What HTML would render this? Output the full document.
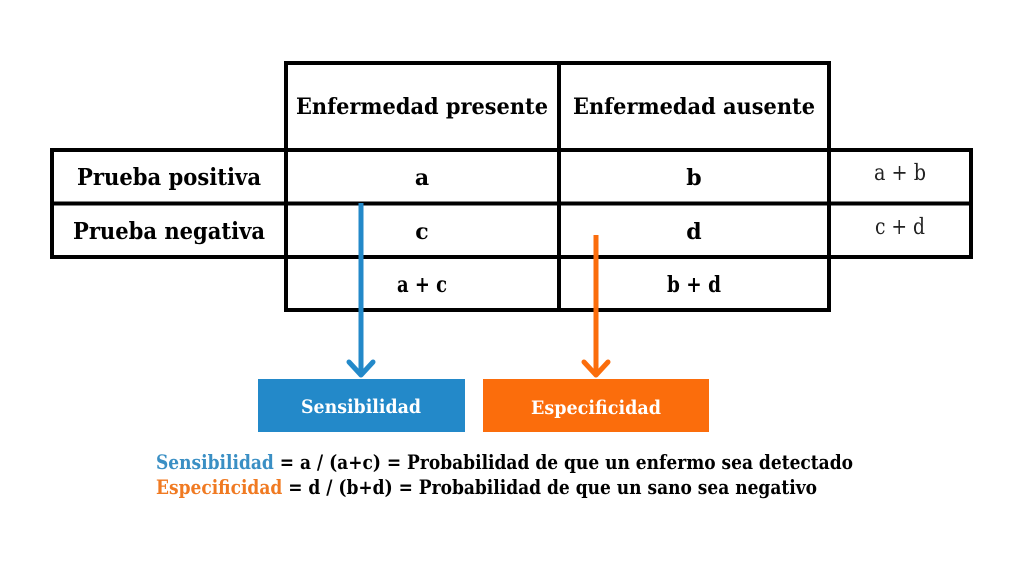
<!DOCTYPE html>
<html><head><meta charset="utf-8"><style>
html,body{margin:0;padding:0;background:#fff;}
svg{display:block;}
text{font-family:"DejaVu Serif","Liberation Serif",serif;}
</style></head><body>
<svg width="1024" height="576" viewBox="0 0 1024 576">
<rect width="1024" height="576" fill="#fff"/>
<g fill="none" stroke="#000" stroke-width="4">
<rect x="286" y="63" width="543" height="87"/>
<rect x="52" y="150" width="919" height="107"/>
<line x1="52" y1="203.5" x2="971" y2="203.5"/>
<line x1="286" y1="150" x2="286" y2="311"/>
<line x1="559" y1="63" x2="559" y2="311"/>
<line x1="829" y1="63" x2="829" y2="311"/>
<line x1="284" y1="310" x2="831" y2="310"/>
</g>
<g font-weight="bold" font-size="22" text-anchor="middle" fill="#000">
<text x="422" y="114" textLength="252" lengthAdjust="spacingAndGlyphs">Enfermedad presente</text>
<text x="694" y="114" textLength="242" lengthAdjust="spacingAndGlyphs">Enfermedad ausente</text>
<text x="169" y="185" font-size="23" textLength="184" lengthAdjust="spacingAndGlyphs">Prueba positiva</text>
<text x="169" y="239" font-size="23" textLength="192" lengthAdjust="spacingAndGlyphs">Prueba negativa</text>
<text x="422" y="185">a</text>
<text x="694" y="185">b</text>
<text x="422" y="239">c</text>
<text x="694" y="239">d</text>
<text x="422" y="292" textLength="50" lengthAdjust="spacingAndGlyphs">a + c</text>
<text x="694" y="292" textLength="54" lengthAdjust="spacingAndGlyphs">b + d</text>
</g>
<g font-size="22" text-anchor="middle" fill="#222">
<text x="900" y="180" textLength="52" lengthAdjust="spacingAndGlyphs">a + b</text>
<text x="900" y="234" textLength="50" lengthAdjust="spacingAndGlyphs">c + d</text>
</g>
<g stroke-width="5" fill="none" stroke-linecap="round" stroke-linejoin="round">
<line x1="361" y1="203" x2="361" y2="375" stroke="#2389c9" stroke-linecap="butt"/>
<polyline points="349,362 361,375 373,362" stroke="#2389c9"/>
<line x1="596" y1="235" x2="596" y2="375" stroke="#fb6d0c" stroke-linecap="butt"/>
<polyline points="584,362 596,375 608,362" stroke="#fb6d0c"/>
</g>
<rect x="258" y="379" width="207" height="53" fill="#2389c9"/>
<rect x="483" y="379" width="226" height="53" fill="#fb6d0c"/>
<g font-weight="bold" font-size="19" text-anchor="middle" fill="#fff">
<text x="361" y="413" textLength="120" lengthAdjust="spacingAndGlyphs">Sensibilidad</text>
<text x="596" y="414" textLength="130" lengthAdjust="spacingAndGlyphs">Especificidad</text>
</g>
<g font-weight="bold" font-size="20">
<text x="156" y="469" textLength="697" lengthAdjust="spacingAndGlyphs"><tspan fill="#3a8fc4">Sensibilidad</tspan><tspan fill="#000"> = a / (a+c) = Probabilidad de que un enfermo sea detectado</tspan></text>
<text x="156" y="494" textLength="661" lengthAdjust="spacingAndGlyphs"><tspan fill="#f07a22">Especificidad</tspan><tspan fill="#000"> = d / (b+d) = Probabilidad de que un sano sea negativo</tspan></text>
</g>
</svg>
</body></html>
